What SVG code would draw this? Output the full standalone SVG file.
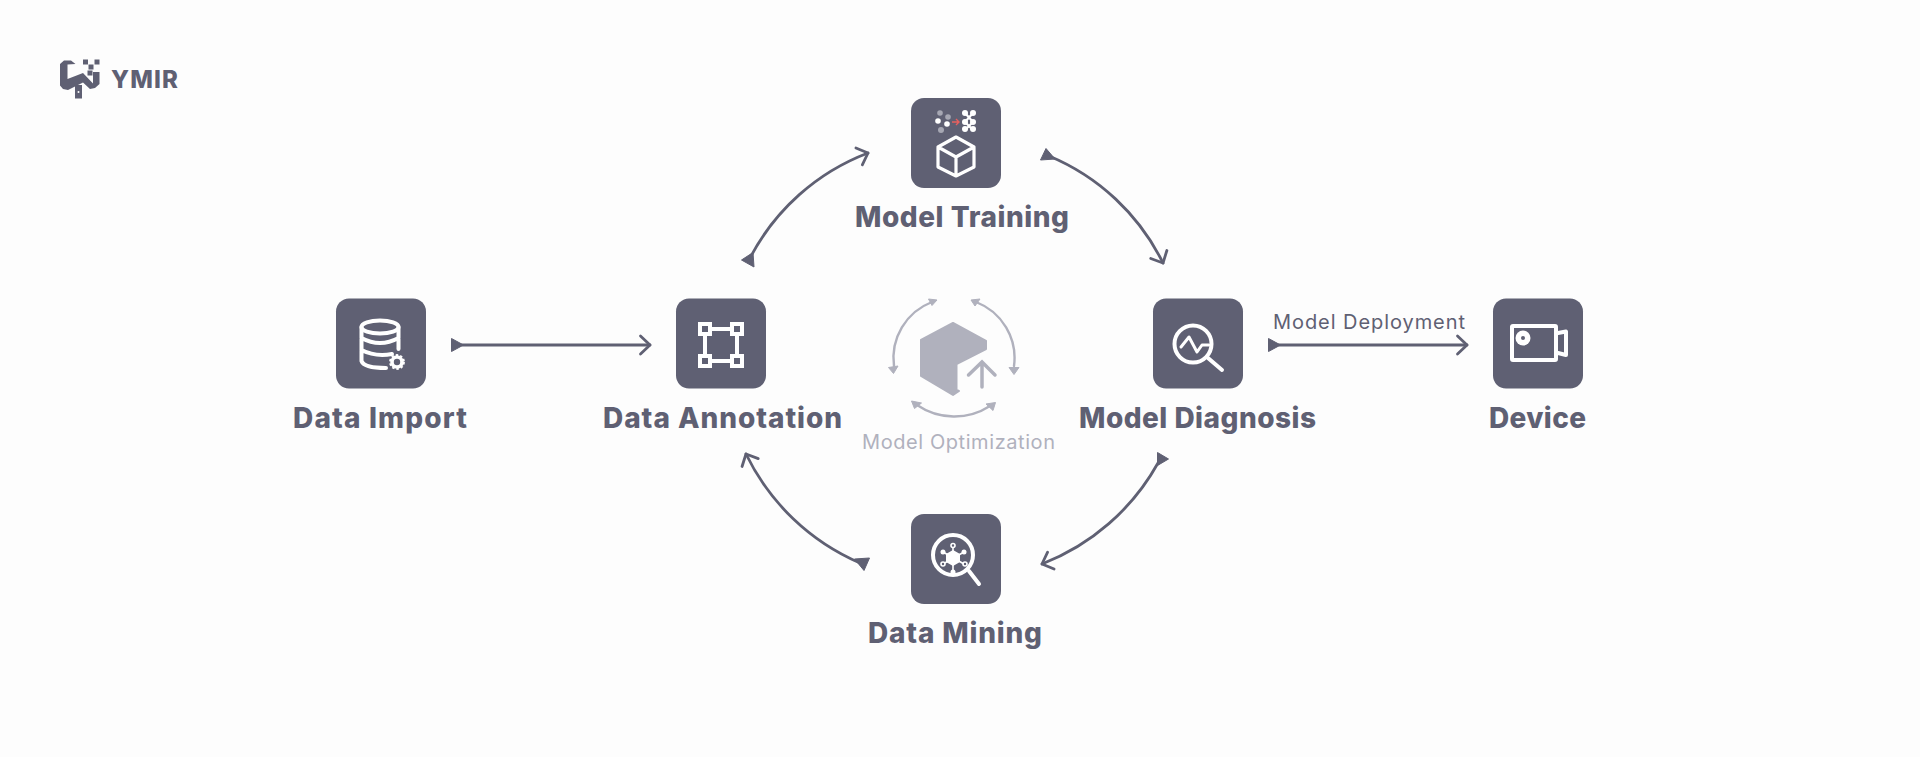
<svg xmlns="http://www.w3.org/2000/svg" width="1920" height="757" viewBox="0 0 1920 757">
  <style>
    .box { fill: #5f6073; }
    .title { font-family: Inter, "Open Sans", "Liberation Sans", sans-serif; font-weight: 800; font-size: 28px; fill: #5f6073; }
    .note { font-family: Inter, "Open Sans", "Liberation Sans", sans-serif; font-weight: 400; font-size: 20px; }
    .wire { fill: none; stroke: #5f6073; stroke-width: 2.8; stroke-linecap: round; }
    .tail { fill: #5f6073; stroke: #5f6073; stroke-width: 1; stroke-linejoin: round; }
    .ghost { fill: none; stroke: #b0b1bd; stroke-width: 2.4; stroke-linecap: round; }
    .ghost-fill { fill: #b0b1bd; stroke: #b0b1bd; stroke-width: 1; stroke-linejoin: round; }
    .ink { fill: none; stroke: #ffffff; stroke-width: 4; stroke-linecap: round; stroke-linejoin: round; }
    .thin { fill: none; stroke: #ffffff; stroke-width: 2.2; stroke-linecap: round; }
  </style>
  <defs>
    <marker id="chevron" markerUnits="userSpaceOnUse" markerWidth="24" markerHeight="24" refX="12" refY="12" orient="auto">
      <path d="M2.5,3 L12,12 L2.5,21" fill="none" stroke="#5f6073" stroke-width="2.8" stroke-linecap="round" stroke-linejoin="round"/>
    </marker>
  </defs>

  <rect width="1920" height="757" fill="#fdfdfd"/>

  <g id="logo">
    <path fill="#5f6073" d="M60,64 L64,60.500 L71,60.500 L75.500,64 L67.500,64.500 L67.500,79 L83,73 L93,83.500 L93,72 L99.500,72 L99.500,84 L95,88 L90,89 L83,82.500 L68,90 L63,89 L60,85.500 Z"/>
    <rect x="75" y="85" width="7" height="13.500" fill="#5f6073"/>
    <circle cx="78.500" cy="92" r="1" fill="#fdfdfd"/>
    <g fill="#5f6073">
      <rect x="83" y="59.500" width="5" height="5"/>
      <rect x="94.500" y="59.500" width="5" height="5"/>
      <rect x="88.500" y="64.500" width="5" height="5"/>
      <rect x="87.500" y="70.500" width="5" height="5"/>
    </g>
    <text x="111" y="88" font-family="Inter, 'Liberation Sans', sans-serif" font-weight="800" font-size="24" fill="#5f6073" textLength="67">YMIR</text>
  </g>

  <g id="connectors">
    <path class="wire" d="M462,345 L650,345" marker-end="url(#chevron)"/>
    <polygon class="tail" points="451.500,338.500 463.500,345 451.500,351.500"/>
    <path class="wire" d="M1279,345 L1467,345" marker-end="url(#chevron)"/>
    <polygon class="tail" points="1268.500,338.500 1280.500,345 1268.500,351.500"/>
    <path class="wire" d="M750,258 A222,222 0 0 1 868,153" marker-end="url(#chevron)"/>
    <polygon class="tail" points="741.500,260 753,252.500 754,267"/>
    <path class="wire" d="M1049,156 A222,222 0 0 1 1163,263" marker-end="url(#chevron)"/>
    <polygon class="tail" points="1046,148.500 1040.500,160 1055,159"/>
    <path class="wire" d="M860,563 A226,226 0 0 1 746,454" marker-end="url(#chevron)"/>
    <polygon class="tail" points="854.500,559 869.500,558 864,570.500"/>
    <path class="wire" d="M1158,463 A226,226 0 0 1 1042,564" marker-end="url(#chevron)"/>
    <polygon class="tail" points="1157.500,452.500 1168.500,459 1157.500,465.500"/>
    <text class="note" x="1273" y="329" fill="#5f6073" textLength="192">Model Deployment</text>
  </g>

  <g id="data-import">
    <rect class="box" x="336" y="298.500" width="90" height="90" rx="13"/>
    <ellipse class="ink" cx="380" cy="327" rx="18.500" ry="6.500"/>
    <path class="ink" d="M361.500,327 V361 Q364,368 386,368 M398.500,327 V349 M361.500,338 Q380,348 398.500,338 M361.500,350 Q375,357 392,354"/>
    <circle cx="397" cy="362" r="5" fill="none" stroke="#ffffff" stroke-width="3.600"/>
    <circle cx="397" cy="362" r="7" fill="none" stroke="#ffffff" stroke-width="1.800" stroke-dasharray="2.500 2.000"/>
    <text class="title" x="293" y="428" textLength="174">Data Import</text>
  </g>

  <g id="data-annotation">
    <rect class="box" x="676" y="298.500" width="90" height="90" rx="13"/>
    <rect class="ink" x="705" y="329" width="32" height="32" stroke-linejoin="miter"/>
    <g fill="#5f6073" stroke="#ffffff" stroke-width="4">
      <rect x="700" y="324" width="10" height="10"/>
      <rect x="732" y="324" width="10" height="10"/>
      <rect x="700" y="356" width="10" height="10"/>
      <rect x="732" y="356" width="10" height="10"/>
    </g>
    <text class="title" x="603" y="428" textLength="239">Data Annotation</text>
  </g>

  <g id="model-training">
    <rect class="box" x="911" y="98" width="90" height="90" rx="13"/>
    <path class="ink" style="stroke-width:3.200" d="M956,137 L938,147 V167 L956,176 L974,167 V147 Z M938,147 L956,157 L974,147 M956,157 V176"/>
    <circle cx="940" cy="113" r="2.800" fill="#a6a7b3"/>
    <circle cx="948" cy="117" r="2.800" fill="#a6a7b3"/>
    <circle cx="938" cy="121" r="2.800" fill="#ffffff"/>
    <circle cx="947" cy="124" r="2.800" fill="#ffffff"/>
    <circle cx="941" cy="130" r="3" fill="#a6a7b3"/>
    <path d="M952,122 H959 M956,119 L959,122 L956,125" fill="none" stroke="#e8605f" stroke-width="1.400"/>
    <path class="thin" d="M965,113 L973,122 L965,130 M973,113 L965,122 L973,130"/>
    <g fill="#ffffff">
      <circle cx="965" cy="113" r="3"/>
      <circle cx="973" cy="113" r="3"/>
      <circle cx="965" cy="122" r="3"/>
      <circle cx="973" cy="122" r="3"/>
      <circle cx="965" cy="129" r="3"/>
      <circle cx="973" cy="129" r="3"/>
    </g>
    <text class="title" x="855" y="227" textLength="214">Model Training</text>
  </g>

  <g id="model-optimization">
    <path class="ghost-fill" stroke-width="2" style="stroke-width:2" d="M953,323 L921,340 V376 L953,395 L959,391 L956.500,390 V364 L986,349 V341 Z"/>
    <path class="ghost" style="stroke-width:3.500" d="M982,387 V363 M968.500,375 L982,362 L995,375"/>
    <path class="ghost" d="M932,302 A60,60 0 0 0 894,366"/>
    <path class="ghost" d="M976,302 A60,60 0 0 1 1014,366"/>
    <path class="ghost" d="M917,405 A66,66 0 0 0 990,406"/>
    <polygon class="ghost-fill" points="937,300 928.500,299 932,305.500"/>
    <polygon class="ghost-fill" points="893.500,373.500 888.500,367.500 898,366"/>
    <polygon class="ghost-fill" points="971,300 980,299 975,306"/>
    <polygon class="ghost-fill" points="1014,374.500 1009,367.500 1019,367.500"/>
    <polygon class="ghost-fill" points="911.500,401 921.500,403 914.500,408.500"/>
    <polygon class="ghost-fill" points="995.500,402.500 986,404 993,410.500"/>
    <text class="note" x="862" y="449" fill="#b0b1bd" textLength="193">Model Optimization</text>
  </g>

  <g id="model-diagnosis">
    <rect class="box" x="1153" y="298.500" width="90" height="90" rx="13"/>
    <circle class="ink" cx="1193" cy="344" r="18.500"/>
    <path class="ink" d="M1208,358 L1222,370"/>
    <path class="ink" style="stroke-width:3" d="M1181,347 L1189,337 L1197,352 L1202,345 H1209"/>
    <text class="title" x="1079" y="428" textLength="237">Model Diagnosis</text>
  </g>

  <g id="device">
    <rect class="box" x="1493" y="298.500" width="90" height="90" rx="13"/>
    <rect class="ink" x="1512" y="326" width="44" height="34" rx="1"/>
    <circle cx="1523" cy="338" r="7.500" fill="#ffffff"/>
    <circle cx="1523" cy="338" r="2" fill="#5f6073"/>
    <path class="ink" d="M1558,333 L1566,331.500 V355 L1558,353"/>
    <text class="title" x="1489" y="428" textLength="97">Device</text>
  </g>

  <g id="data-mining">
    <rect class="box" x="911" y="514" width="90" height="90" rx="13"/>
    <circle class="ink" cx="953" cy="555" r="20"/>
    <path class="ink" d="M969,571 L979,584"/>
    <path class="thin" style="stroke-width:1.600" d="M953,547 V572 M943,552 L964,564 M964,552 L943,564"/>
    <polygon fill="#ffffff" points="953,550 960,554 960,562 953,566 946,562 946,554"/>
    <g fill="#5f6073" stroke="#ffffff" stroke-width="1.600">
      <circle cx="953" cy="545.500" r="2"/>
      <circle cx="943" cy="564" r="2"/>
      <circle cx="965" cy="564" r="2"/>
    </g>
    <g fill="#ffffff">
      <circle cx="943" cy="552" r="2.500"/>
      <circle cx="964" cy="552" r="2.500"/>
      <circle cx="953" cy="572" r="2.500"/>
    </g>
    <text class="title" x="868" y="643" textLength="174">Data Mining</text>
  </g>
</svg>
